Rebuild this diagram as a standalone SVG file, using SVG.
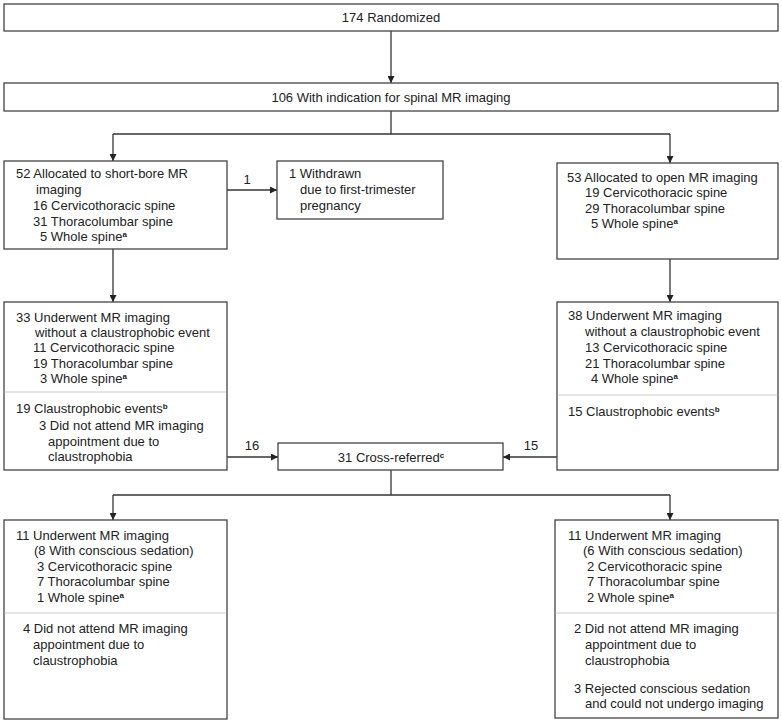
<svg xmlns="http://www.w3.org/2000/svg" width="782" height="724" viewBox="0 0 782 724">
<defs>
<style>
text{font-family:"Liberation Sans",Arial,sans-serif;font-size:13px;fill:#222}
.box{fill:#fff;stroke:#444;stroke-width:1.3}
.sep{stroke:#ccc;stroke-width:1.2}
.ln{fill:none;stroke:#333;stroke-width:1.3}
.sup{font-size:8px;font-weight:bold}
.c{text-anchor:middle}
</style>
<marker id="ah" viewBox="0 0 10 10" refX="10" refY="5" markerWidth="9" markerHeight="7" markerUnits="userSpaceOnUse" orient="auto">
<path d="M0,0 L10,5 L0,10 z" fill="#222"/>
</marker>
</defs>
<rect width="782" height="724" fill="#fff"/>
<g id="connectors">
<line class="ln" x1="391" y1="31" x2="391" y2="83" marker-end="url(#ah)"/>
<polyline class="ln" points="391,111 391,134"/>
<polyline class="ln" points="113,134 670,134"/>
<line class="ln" x1="113" y1="134" x2="113" y2="161" marker-end="url(#ah)"/>
<line class="ln" x1="670" y1="134" x2="670" y2="163" marker-end="url(#ah)"/>
<line class="ln" x1="227" y1="190" x2="277" y2="190" marker-end="url(#ah)"/>
<text x="247" y="184" class="c">1</text>
<line class="ln" x1="113" y1="249" x2="113" y2="302" marker-end="url(#ah)"/>
<line class="ln" x1="670" y1="259" x2="670" y2="302" marker-end="url(#ah)"/>
<line class="ln" x1="227" y1="457" x2="278" y2="457" marker-end="url(#ah)"/>
<text x="252" y="450" class="c">16</text>
<line class="ln" x1="557" y1="457" x2="503" y2="457" marker-end="url(#ah)"/>
<text x="531" y="450" class="c">15</text>
<polyline class="ln" points="391,470 391,495"/>
<polyline class="ln" points="113,495 670,495"/>
<line class="ln" x1="113" y1="495" x2="113" y2="520" marker-end="url(#ah)"/>
<line class="ln" x1="670" y1="495" x2="670" y2="520" marker-end="url(#ah)"/>
</g>
<g id="randomized">
<rect class="box" x="4" y="4" width="774" height="27"/>
<text x="391" y="22" class="c">174 Randomized</text>
</g>
<g id="indication">
<rect class="box" x="4" y="83" width="774" height="28"/>
<text x="391" y="101.5" class="c">106 With indication for spinal MR imaging</text>
</g>
<g id="shortbore">
<rect class="box" x="4" y="161" width="223" height="88"/>
<text x="16" y="178">52 Allocated to short-bore MR</text>
<text x="36" y="194">imaging</text>
<text x="33" y="210">16 Cervicothoracic spine</text>
<text x="33" y="225.5">31 Thoracolumbar spine</text>
<text x="40" y="241">5 Whole spine<tspan class="sup" dy="-4">a</tspan></text>
</g>
<g id="withdrawn">
<rect class="box" x="277" y="161" width="166" height="58"/>
<text x="289" y="178">1 Withdrawn</text>
<text x="300" y="194">due to first-trimester</text>
<text x="300" y="210">pregnancy</text>
</g>
<g id="open">
<rect class="box" x="557" y="163" width="221" height="96"/>
<text x="567" y="181.5">53 Allocated to open MR imaging</text>
<text x="585" y="197">19 Cervicothoracic spine</text>
<text x="585" y="212.5">29 Thoracolumbar spine</text>
<text x="591" y="228">5 Whole spine<tspan class="sup" dy="-4">a</tspan></text>
</g>
<g id="shortbore-result">
<rect class="box" x="4" y="302" width="223" height="168"/>
<line class="sep" x1="4.7" y1="392" x2="226.3" y2="392"/>
<text x="16" y="321.5">33 Underwent MR imaging</text>
<text x="35" y="337">without a claustrophobic event</text>
<text x="33" y="352">11 Cervicothoracic spine</text>
<text x="33" y="367.5">19 Thoracolumbar spine</text>
<text x="40" y="383">3 Whole spine<tspan class="sup" dy="-4">a</tspan></text>
<text x="16" y="413">19 Claustrophobic events<tspan class="sup" dy="-4">b</tspan></text>
<text x="39" y="429.5">3 Did not attend MR imaging</text>
<text x="48" y="446">appointment due to</text>
<text x="48" y="461">claustrophobia</text>
</g>
<g id="open-result">
<rect class="box" x="557" y="302" width="221" height="168"/>
<line class="sep" x1="557.7" y1="395" x2="777.3" y2="395"/>
<text x="568" y="320">38 Underwent MR imaging</text>
<text x="585" y="336">without a claustrophobic event</text>
<text x="585" y="352">13 Cervicothoracic spine</text>
<text x="585" y="367.5">21 Thoracolumbar spine</text>
<text x="591" y="383">4 Whole spine<tspan class="sup" dy="-4">a</tspan></text>
<text x="568" y="415.5">15 Claustrophobic events<tspan class="sup" dy="-4">b</tspan></text>
</g>
<g id="crossreferred">
<rect class="box" x="278" y="443" width="225" height="27"/>
<text x="391" y="461.5" class="c">31 Cross-referred<tspan class="sup" dy="-4">c</tspan></text>
</g>
<g id="cross-left">
<rect class="box" x="4" y="520" width="223" height="199"/>
<line class="sep" x1="4.7" y1="613" x2="226.3" y2="613"/>
<text x="16" y="540">11 Underwent MR imaging</text>
<text x="34" y="555">(8 With conscious sedation)</text>
<text x="37" y="570.5">3 Cervicothoracic spine</text>
<text x="37" y="586">7 Thoracolumbar spine</text>
<text x="37" y="601.5">1 Whole spine<tspan class="sup" dy="-4">a</tspan></text>
<text x="23" y="632.5">4 Did not attend MR imaging</text>
<text x="33" y="648.5">appointment due to</text>
<text x="33" y="664.5">claustrophobia</text>
</g>
<g id="cross-right">
<rect class="box" x="555" y="520" width="223" height="198"/>
<line class="sep" x1="555.7" y1="613" x2="777.3" y2="613"/>
<text x="568" y="540">11 Underwent MR imaging</text>
<text x="583" y="555">(6 With conscious sedation)</text>
<text x="587" y="570.5">2 Cervicothoracic spine</text>
<text x="587" y="586">7 Thoracolumbar spine</text>
<text x="587" y="601.5">2 Whole spine<tspan class="sup" dy="-4">a</tspan></text>
<text x="574" y="632.5">2 Did not attend MR imaging</text>
<text x="585" y="648.5">appointment due to</text>
<text x="585" y="664.5">claustrophobia</text>
<text x="574" y="692.5">3 Rejected conscious sedation</text>
<text x="585" y="707.5">and could not undergo imaging</text>
</g>
</svg>
